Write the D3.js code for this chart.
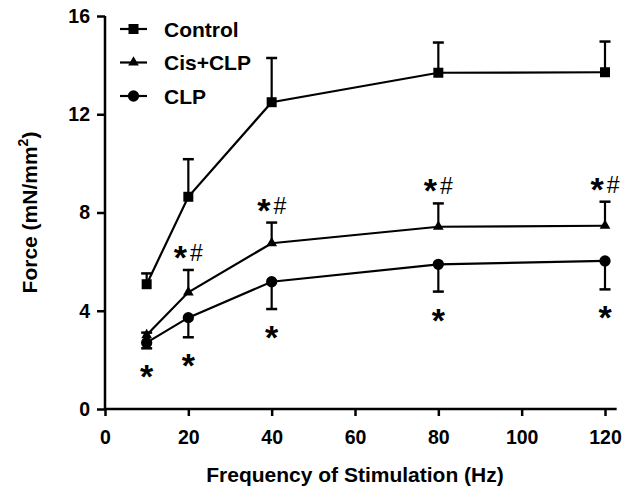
<!DOCTYPE html>
<html>
<head>
<meta charset="utf-8">
<script src="https://cdn.jsdelivr.net/npm/d3@7"></script>
<style>
  body { margin: 0; background: #fff; }
  text { font-family: "Liberation Sans", Arial, sans-serif; fill: #000; }
</style>
</head>
<body>
<svg id="chart"></svg>
<script>
// data
const freq = [10, 20, 40, 80, 120];
const control = [5.08, 8.64, 12.49, 13.69, 13.71];
const controlErr = [0.44, 1.53, 1.80, 1.23, 1.25];
const cisClp = [3.01, 4.75, 6.75, 7.42, 7.46];
const cisClpErr = [0.10, 0.91, 0.84, 0.95, 0.98];
const clp = [2.70, 3.72, 5.18, 5.89, 6.03];
const clpErr = [0.23, 0.80, 1.11, 1.11, 1.16];
const cisMarks = ["", "*#", "*#", "*#", "*#"];
const clpMarks = ["*", "*", "*", "*", "*"];
const xTicks = [0, 20, 40, 60, 80, 100, 120];
const yTicks = [0, 4, 8, 12, 16];

const svgWidth = 633;
const svgHeight = 490;

const svg = d3.select("#chart")
  .attr("width", svgWidth)
  .attr("height", svgHeight);

const xScale = d3.scaleLinear().domain([0, 120]).range([105, 605]);
const yScale = d3.scaleLinear().domain([0, 16]).range([409, 16]);

// axes
const xAxis = d3.axisBottom(xScale).tickValues(xTicks).tickSize(7).tickPadding(14).tickSizeOuter(0);
const gx = svg.append("g").attr("transform", `translate(0, ${yScale(0)})`).call(xAxis);
gx.select(".domain").remove();
gx.append("line")
  .attr("x1", xScale(0)).attr("x2", xScale(122.8))
  .attr("stroke", "#000").attr("stroke-width", 2.5);

const yAxis = d3.axisLeft(yScale).tickValues(yTicks).tickSize(8).tickPadding(7).tickSizeOuter(0);
const gy = svg.append("g").attr("transform", `translate(${xScale(0)}, 0)`).call(yAxis);
gy.select(".domain").remove();
gy.append("line")
  .attr("y1", yScale(0)).attr("y2", yScale(16))
  .attr("stroke", "#000").attr("stroke-width", 2.5);

svg.selectAll(".tick line").attr("stroke", "#000").attr("stroke-width", 2.5);
svg.selectAll(".tick text")
  .style("font-size", "19.5px").style("font-weight", "bold")
  .style("font-family", "'Liberation Sans', Arial, sans-serif");

// axis titles
svg.append("text")
  .attr("x", (xScale(0) + xScale(120)) / 2).attr("y", 482)
  .attr("text-anchor", "middle")
  .style("font-size", "21px").style("font-weight", "bold")
  .text("Frequency of Stimulation (Hz)");

const yt = svg.append("text")
  .attr("transform", `translate(37, ${(yScale(0) + yScale(16)) / 2}) rotate(-90)`)
  .attr("text-anchor", "middle")
  .style("font-size", "21px").style("font-weight", "bold");
yt.append("tspan").text("Force (mN/mm");
yt.append("tspan").attr("dy", -9).style("font-size", "14px").text("2");
yt.append("tspan").attr("dy", 9).text(")");

const series = [
  {name: "Control", vals: control, err: controlErr, dir: 1, sym: d3.symbolSquare, size: 100},
  {name: "Cis+CLP", vals: cisClp, err: cisClpErr, dir: 1, sym: d3.symbolTriangle, size: 50},
  {name: "CLP", vals: clp, err: clpErr, dir: -1, sym: d3.symbolCircle, size: 100}
];

const line = d3.line().x(d => xScale(d[0])).y(d => yScale(d[1]));

series.forEach(s => {
  const pts = freq.map((f, i) => [f, s.vals[i], s.err[i]]);
  const g = svg.append("g");

  // error bars (one sided)
  pts.forEach(p => {
    const end = p[1] + s.dir * p[2];
    g.append("line")
      .attr("x1", xScale(p[0])).attr("x2", xScale(p[0]))
      .attr("y1", yScale(p[1])).attr("y2", yScale(end))
      .attr("stroke", "#000").attr("stroke-width", 2.2);
    g.append("line")
      .attr("x1", xScale(p[0]) - 5.5).attr("x2", xScale(p[0]) + 5.5)
      .attr("y1", yScale(end)).attr("y2", yScale(end))
      .attr("stroke", "#000").attr("stroke-width", 2.5);
  });

  g.append("path")
    .datum(pts)
    .attr("d", line)
    .attr("fill", "none").attr("stroke", "#000").attr("stroke-width", 2.2);

  g.selectAll(".pt")
    .data(pts)
    .enter()
    .append("path")
    .attr("transform", d => `translate(${xScale(d[0])}, ${yScale(d[1])})`)
    .attr("d", d3.symbol(s.sym).size(s.size))
    .attr("fill", "#000");
});

// significance marks
freq.forEach((f, i) => {
  if (cisMarks[i]) {
    const t = svg.append("text")
      .attr("x", xScale(f)).attr("y", yScale(cisClp[i] + cisClpErr[i]) - 9)
      .attr("text-anchor", "middle");
    t.append("tspan").attr("dy", 8).style("font-size", "34px").style("font-weight", "bold").text(cisMarks[i][0]);
    t.append("tspan").attr("dx", 3).attr("dy", -8).style("font-size", "23px").text(cisMarks[i].slice(1));
  }
  if (clpMarks[i]) {
    svg.append("text")
      .attr("x", xScale(f)).attr("y", yScale(clp[i] - clpErr[i]) + 40)
      .attr("text-anchor", "middle")
      .style("font-size", "34px").style("font-weight", "bold")
      .text(clpMarks[i]);
  }
});

// legend
const legend = svg.append("g");
series.forEach((s, i) => {
  const y = 29 + i * 33.5;
  legend.append("line")
    .attr("x1", 120).attr("x2", 147).attr("y1", y).attr("y2", y)
    .attr("stroke", "#000").attr("stroke-width", 2.2);
  legend.append("path")
    .attr("transform", `translate(133.5, ${y})`)
    .attr("d", d3.symbol(s.sym).size(s.size))
    .attr("fill", "#000");
  legend.append("text")
    .attr("x", 164).attr("y", y + 7.5)
    .style("font-size", "21px").style("font-weight", "bold")
    .text(s.name);
});
</script>
</body>
</html>
